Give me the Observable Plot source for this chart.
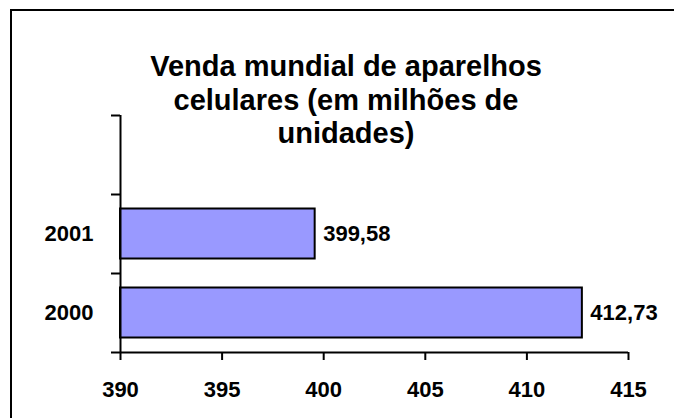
<!DOCTYPE html>
<html>
<head>
<meta charset="utf-8">
<script src="https://cdn.jsdelivr.net/npm/d3@7"></script>
<script src="https://cdn.jsdelivr.net/npm/@observablehq/plot@0.6"></script>
<style>
  html, body { margin: 0; padding: 0; background: #fff; overflow: hidden; }
  #wrap { position: relative; width: 674px; height: 418px; overflow: hidden; }
  #frame { position: absolute; left: 10px; top: 9px; width: 2000px; height: 2000px; border: 2px solid #000; box-sizing: border-box; }
  #chart { position: absolute; left: 0; top: 0; }
  svg { font-family: "Liberation Sans", Arial, sans-serif; }
</style>
</head>
<body>
<div id="wrap"><div id="frame"></div><div id="chart"></div></div>
<script>
const title = "Venda mundial de aparelhos\ncelulares (em milhões de\nunidades)";
const categories = ["2000", "2001"];
const values = [412.73, 399.58];
const xTicks = [390, 395, 400, 405, 410, 415];
const xDomain = [390, 415];

const data = categories.map((c, i) => ({category: c, value: values[i], i}));
const fmt = v => v.toFixed(2).replace(".", ",");
const boundaries = d3.range(0, categories.length + 2);

const chart = Plot.plot({
  width: 674,
  height: 418,
  marginLeft: 120,
  marginRight: 46,
  marginTop: 115,
  marginBottom: 66,
  style: {fontFamily: "'Liberation Sans', Arial, sans-serif", fontWeight: "bold", background: "transparent", color: "#000", overflow: "visible"},
  x: {domain: xDomain},
  y: {domain: [0, categories.length + 1]},
  marks: [
    Plot.rectX(data, {
      x1: xDomain[0], x2: "value", y1: "i", y2: d => d.i + 1,
      insetTop: 14.5, insetBottom: 14.5,
      fill: "#9999FF", stroke: "#000", strokeWidth: 2
    }),
    Plot.ruleY([0], {stroke: "#000", strokeWidth: 2}),
    Plot.ruleX([xDomain[0]], {stroke: "#000", strokeWidth: 2}),
    Plot.axisX({ticks: xTicks, tickSize: 8, tickPadding: 21, fontSize: 22, fontWeight: "bold", strokeWidth: 2, label: null, tickFormat: d => String(d)}),
    Plot.axisY({ticks: boundaries, tickSize: 9, tickFormat: () => "", strokeWidth: 2, label: null}),
    Plot.axisY({ticks: data.map(d => d.i + 0.5), tickSize: 0, tickPadding: 27, fontSize: 22, fontWeight: "bold", label: null,
      tickFormat: v => categories[Math.floor(v)]}),
    Plot.text(data, {
      x: "value", y: d => d.i + 0.5, text: d => fmt(d.value),
      dx: 8, textAnchor: "start", fontSize: 22, fontWeight: "bold", fill: "#000"
    }),
    Plot.text([title], {
      frameAnchor: "top", lineAnchor: "top", dx: -28.5, dy: -63,
      fontSize: 29, fontWeight: "bold", lineHeight: 1.15, fill: "#000"
    })
  ]
});
document.getElementById("chart").appendChild(chart);
</script>
</body>
</html>
